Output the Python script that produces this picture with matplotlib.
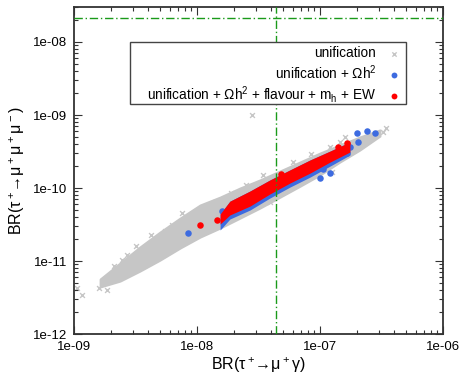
import numpy as np
import matplotlib.pyplot as plt
from matplotlib.patches import Rectangle
from matplotlib.ticker import LogLocator, FixedLocator, NullFormatter

plt.rcParams['font.family'] = ['Liberation Sans', 'DejaVu Sans']
plt.rcParams['mathtext.fontset'] = 'custom'
plt.rcParams['mathtext.rm'] = 'Liberation Sans'
plt.rcParams['mathtext.it'] = 'Liberation Sans'
plt.rcParams['mathtext.bf'] = 'Liberation Sans:bold'

# experimental limits
lim_mugamma = 4.4e-8
lim_3mu = 2.1e-8

# dense core of the "unification" cloud: lower / upper edge
gray_x = [1.63e-9, 2.37e-9, 3.44e-9, 5.0e-9, 7.3e-9, 1.06e-8, 1.54e-8, 2.24e-8,
          3.25e-8, 4.73e-8, 6.88e-8, 1.0e-7, 1.45e-7, 2.11e-7, 3.07e-7]
gray_hi = [5.66e-12, 9.4e-12, 1.56e-11, 2.49e-11, 3.88e-11, 5.85e-11, 7.5e-11, 1.0e-10,
           1.29e-10, 1.71e-10, 2.27e-10, 3.01e-10, 3.88e-10, 5.0e-10, 6.24e-10]
gray_lo = [4.41e-12, 5.32e-12, 7.3e-12, 1.03e-11, 1.51e-11, 2.13e-11, 2.83e-11, 3.88e-11,
           5.32e-11, 7.5e-11, 1.06e-10, 1.51e-10, 2.27e-10, 3.32e-10, 5.15e-10]
# scattered "unification" points outside the core
gray_px = [1.06e-9, 1.16e-9, 1.60e-9, 1.85e-9, 2.45e-9, 2.70e-9, 3.19e-9, 6.27e-9,
           7.55e-9, 9.1e-9, 1.04e-8, 1.12e-8, 1.40e-8, 2.80e-8, 3.44e-8, 3.92e-8,
           1.25e-7, 1.45e-7, 1.60e-7, 3.25e-7, 3.44e-7, 2.1e-9, 4.2e-9, 5.5e-9,
           1.9e-8, 2.5e-8, 6.0e-8, 8.5e-8, 1.2e-7]
gray_py = [4.27e-12, 3.42e-12, 4.27e-12, 4.0e-12, 1.03e-11, 1.21e-11, 1.60e-11, 3.11e-11,
           4.55e-11, 4.27e-11, 4.69e-11, 5.32e-11, 6.4e-11, 1.0e-9, 1.51e-10, 6.4e-11,
           1.66e-10, 4.27e-10, 5.0e-10, 5.85e-10, 6.64e-10, 8.6e-12, 2.3e-11, 2.6e-11,
           8.6e-11, 1.1e-10, 2.25e-10, 2.9e-10, 3.7e-10]

# unification + relic density / all constraints: band edges
band_x = [1.54e-8, 1.85e-8, 2.70e-8, 3.92e-8, 5.70e-8, 8.30e-8, 1.21e-7, 1.75e-7]
red_hi = [4.40e-11, 6.6e-11, 9.1e-11, 1.29e-10, 1.77e-10, 2.42e-10, 3.21e-10, 4.27e-10]
red_lo = [3.21e-11, 4.27e-11, 5.66e-11, 8.3e-11, 1.17e-10, 1.60e-10, 2.27e-10, 3.11e-10]
blue_lo = [2.66e-11, 3.76e-11, 5.0e-11, 7.3e-11, 1.03e-10, 1.41e-10, 2.0e-10, 2.83e-10]

blue_px = [8.45e-9, 1.60e-8, 3.13e-8, 1.0e-7, 1.06e-7, 1.21e-7, 1.66e-7, 1.75e-7,
           2.0e-7, 2.41e-7, 2.80e-7, 2.04e-7]
blue_py = [2.42e-11, 4.84e-11, 8.0e-11, 1.37e-10, 1.82e-10, 1.60e-10, 3.01e-10, 3.65e-10,
           5.66e-10, 6.04e-10, 5.66e-10, 4.27e-10]

red_px = [1.06e-8, 1.66e-7, 1.45e-8, 2.2e-8, 4.8e-8, 1.4e-7]
red_py = [3.11e-11, 4.13e-10, 3.6e-11, 6.3e-11, 1.55e-10, 3.7e-10]

c_gray = '#c6c6c6'
c_blue = '#3d6be0'
c_red = '#ff0000'

fig = plt.figure(figsize=(4.6, 3.77), dpi=100)
ax = fig.add_axes([0.161, 0.114, 0.802, 0.867])
ax.set_xscale('log')
ax.set_yscale('log')

ax.fill_between(gray_x, gray_lo, gray_hi, color=c_gray, lw=1.5, zorder=1)
ax.scatter(gray_px, gray_py, marker='x', s=12, color=c_gray, lw=1, zorder=1,
           label='unification')
ax.fill_between(band_x, blue_lo, red_hi, color=c_blue, lw=0, zorder=2)
ax.scatter(blue_px, blue_py, marker='o', s=22, color=c_blue, lw=0, zorder=2,
           label=r'unification + $\Omega$h$^2$')
ax.fill_between(band_x, red_lo, red_hi, color=c_red, lw=0, zorder=3)
ax.scatter(red_px, red_py, marker='o', s=22, color=c_red, lw=0, zorder=3,
           label=r'unification + $\Omega$h$^2$ + flavour + m$_\mathrm{h}$ + EW')

ax.axvline(lim_mugamma, color='#1a9a1a', lw=1, ls=(0, (6, 2, 1, 2)), zorder=4)
ax.axhline(lim_3mu, color='#1a9a1a', lw=1, ls=(0, (6, 2, 1, 2)), zorder=4)

ax.set_xlim(1e-9, 1e-6)
ax.set_ylim(1e-12, 3e-8)

xt = [1e-9, 1e-8, 1e-7, 1e-6]
yt = [1e-12, 1e-11, 1e-10, 1e-9, 1e-8]
ax.xaxis.set_major_locator(FixedLocator(xt))
ax.yaxis.set_major_locator(FixedLocator(yt))
ax.set_xticklabels(['1e-09', '1e-08', '1e-07', '1e-06'])
ax.set_yticklabels(['1e-12', '1e-11', '1e-10', '1e-09', '1e-08'])
ax.xaxis.set_minor_locator(LogLocator(base=10, subs=np.arange(2, 10), numticks=20))
ax.yaxis.set_minor_locator(LogLocator(base=10, subs=np.arange(2, 10), numticks=20))
ax.xaxis.set_minor_formatter(NullFormatter())
ax.yaxis.set_minor_formatter(NullFormatter())
ax.tick_params(which='both', direction='in', top=True, right=True, labelsize=9.5,
               color='#333333', width=0.8)
ax.tick_params(which='major', length=6, pad=5)
ax.tick_params(which='minor', length=3)
for s in ax.spines.values():
    s.set_linewidth(1.3)
    s.set_color('#333333')

ax.set_xlabel(r'BR($\tau^+\!\!\to\!\mu^+\gamma$)', fontsize=11.5, labelpad=2)
ax.set_ylabel(r'BR($\tau^+\!\!\to\!\mu^+\mu^+\mu^-$)', fontsize=11.5, labelpad=4)

# legend box (gnuplot style, key text right-aligned, sample on the right)
box = Rectangle((0.152, 0.703), 0.748, 0.190, transform=ax.transAxes,
                facecolor='white', edgecolor='#444444', lw=1, zorder=9)
ax.add_patch(box)
leg = ax.legend(loc='upper right', bbox_to_anchor=(0.90, 0.893), borderaxespad=0,
                markerfirst=False, fontsize=9.8, frameon=False,
                handletextpad=0.7, labelspacing=0.2, borderpad=0.3,
                handlelength=1.2, scatterpoints=1, markerscale=0.9)
leg.set_zorder(10)

fig.savefig('out.png', dpi=100)
